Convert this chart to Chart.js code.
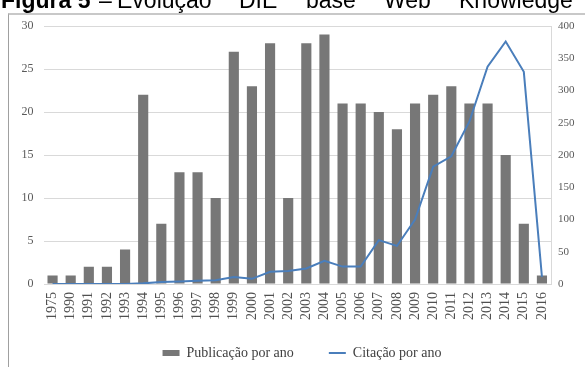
<!DOCTYPE html>
<html>
<head>
<meta charset="utf-8">
<script src="https://cdn.jsdelivr.net/npm/chart.js@4"></script>
<style>
  html, body { margin: 0; padding: 0; background: #ffffff; width: 585px; height: 367px; overflow: hidden; }
  .tw { position: absolute; top: -11px; font-family: "Liberation Sans", Arial, sans-serif; font-size: 23px; line-height: 23px; color: #000; white-space: nowrap; }
  #frame { position: absolute; left: 8px; top: 13px; width: 590px; height: 370px; border-left: 1px solid #a0a0a0; border-top: 2px solid #c8c8c8; pointer-events: none; }
  #wrap { position: absolute; left: 0; top: 0; width: 585px; height: 367px; }
</style>
</head>
<body>
<div id="wrap"><canvas id="c" width="585" height="367"></canvas></div>
<div id="frame"></div>
<span class="tw" style="left:1px"><b>Figura 5</b></span>
<span class="tw" style="left:99px">–</span>
<span class="tw" style="left:117px">Evolução</span>
<span class="tw" style="left:239px">DIE</span>
<span class="tw" style="left:306px">base</span>
<span class="tw" style="left:384px">Web</span>
<span class="tw" style="left:459px">Knowledge</span>
<script>
const categories = ["1975","1990","1991","1992","1993","1994","1995","1996","1997","1998","1999","2000","2001","2002","2003","2004","2005","2006","2007","2008","2009","2010","2011","2012","2013","2014","2015","2016"];
const publicacoes = [1,1,2,2,4,22,7,13,13,10,27,23,28,10,28,29,21,21,20,18,21,22,23,21,21,15,7,1];
const citacoes = [0,0,0,0,0,1,3,4,5,6,11,8,19,20,24,36,27,27,68,59,100,182,198,252,337,376,329,11];
const leftTicks = [0,5,10,15,20,25,30];
const rightTicks = [0,50,100,150,200,250,300,350,400];
const seriesNames = ["Publicação por ano", "Citação por ano"];

const serif = "'Liberation Serif', 'Times New Roman', serif";

new Chart(document.getElementById('c'), {
  data: {
    labels: categories,
    datasets: [
      {
        type: 'bar', label: seriesNames[0], data: publicacoes, yAxisID: 'y',
        backgroundColor: '#777777', borderWidth: 0,
        categoryPercentage: 1, barPercentage: 0.56, order: 1, pointStyle: 'rect'
      },
      {
        type: 'line', label: seriesNames[1], data: citacoes, yAxisID: 'y1',
        borderColor: '#4a7ebb', backgroundColor: '#4a7ebb', borderWidth: 2,
        pointRadius: 0, tension: 0, order: 0, pointStyle: 'line'
      }
    ]
  },
  options: {
    responsive: false, animation: false, devicePixelRatio: 1,
    layout: { padding: { top: 26, left: 19, right: 0, bottom: -3 } },
    plugins: {
      tooltip: { enabled: false },
      legend: {
        position: 'bottom',
        labels: {
          usePointStyle: true, pointStyleWidth: 17, boxHeight: 6,
          padding: 35, color: '#404040',
          sort: (a, b) => a.datasetIndex - b.datasetIndex,
          font: { family: serif, size: 14 }
        }
      }
    },
    scales: {
      x: {
        grid: { display: false, drawTicks: false },
        border: { display: false },
        ticks: { color: '#505050', font: { family: serif, size: 14 }, minRotation: 90, maxRotation: 90, padding: 8, autoSkip: false },
        afterFit: (s) => { s.height = 27; s._computeLabelArea = () => undefined; }
      },
      y: {
        position: 'left', min: 0, max: 30,
        afterBuildTicks: (s) => { s.ticks = leftTicks.map(v => ({ value: v })); },
        grid: { color: '#d9d9d9', drawTicks: false, lineWidth: 1 },
        border: { display: false },
        ticks: { color: '#595959', font: { family: serif, size: 12 }, padding: 10 },
        afterFit: (s) => { s.width = 24.5; }
      },
      y1: {
        position: 'right', min: 0, max: 400,
        afterBuildTicks: (s) => { s.ticks = rightTicks.map(v => ({ value: v })); },
        grid: { display: false, drawTicks: false },
        border: { display: true, color: '#d9d9d9' },
        ticks: { color: '#595959', font: { family: serif, size: 11 }, padding: 7 },
        afterFit: (s) => { s.width = 34; }
      }
    }
  }
});
</script>
</body>
</html>
